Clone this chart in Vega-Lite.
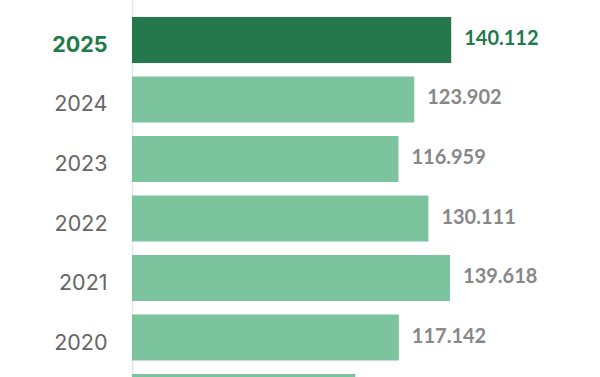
{
  "$schema": "https://vega.github.io/schema/vega-lite/v6.json",
  "width": 467,
  "height": 437,
  "autosize": "none",
  "padding": {"left": 132, "top": 0, "right": 0, "bottom": 0},
  "background": "white",
  "config": {"view": {"stroke": null}},
  "data": {
    "values": [
      {"year": "2025", "value": 140.112, "label": "140.112"},
      {"year": "2024", "value": 123.902, "label": "123.902"},
      {"year": "2023", "value": 116.959, "label": "116.959"},
      {"year": "2022", "value": 130.111, "label": "130.111"},
      {"year": "2021", "value": 139.618, "label": "139.618"},
      {"year": "2020", "value": 117.142, "label": "117.142"},
      {"year": "2019", "value": 98.0, "label": ""}
    ]
  },
  "encoding": {
    "y": {
      "field": "year",
      "type": "nominal",
      "sort": ["2025", "2024", "2023", "2022", "2021", "2020", "2019"],
      "scale": {"paddingInner": 0.227, "paddingOuter": 0.2857},
      "axis": {
        "title": null,
        "ticks": false,
        "domainColor": "#e6e6e6",
        "domainWidth": 1.5,
        "labelPadding": 25,
        "labelOffset": 6,
        "labelFont": "Inter",
        "labelFontSize": 21.5,
        "labelExpr": "datum.value == '2019' ? '' : datum.label",
        "labelColor": {"condition": {"test": "datum.value == '2025'", "value": "#217a4a"}, "value": "#666666"},
        "labelFontWeight": {"condition": {"test": "datum.value == '2025'", "value": "bold"}, "value": "normal"}
      }
    },
    "x": {
      "field": "value",
      "type": "quantitative",
      "scale": {"domain": [0, 205], "nice": false},
      "axis": null
    }
  },
  "layer": [
    {
      "mark": {"type": "bar"},
      "encoding": {
        "color": {
          "condition": {"test": "datum.year == '2025'", "value": "#23774b"},
          "value": "#7bc49d"
        }
      }
    },
    {
      "mark": {"type": "text", "align": "left", "baseline": "middle", "dx": 13, "dy": -1, "font": "Lato", "fontSize": 20, "fontWeight": "bold"},
      "encoding": {
        "text": {"field": "label"},
        "color": {
          "condition": {"test": "datum.year == '2025'", "value": "#217a4a"},
          "value": "#888888"
        }
      }
    }
  ]
}
